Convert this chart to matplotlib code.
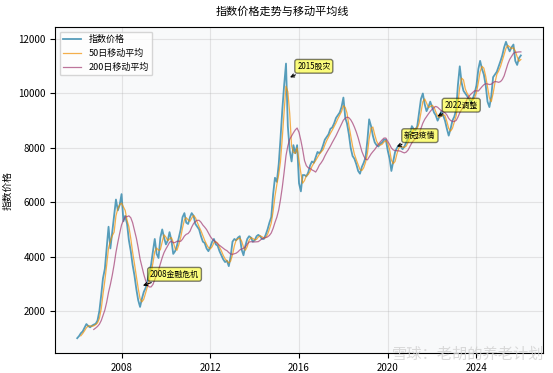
import matplotlib
matplotlib.use("Agg")
import matplotlib.pyplot as plt
import matplotlib.dates as mdates
import pandas as pd

plt.rcParams['font.family'] = ['Noto Sans CJK SC', 'DejaVu Sans']
plt.rcParams['axes.unicode_minus'] = False

# Prix mensuel de l'indice, de 2006-01 à 2026-01
dates = pd.date_range('2006-01-01', '2026-01-01', freq='MS')
prix = [
    1000, 1080, 1180, 1250, 1380, 1520, 1450, 1400, 1460, 1500, 1530, 1650,    # 2006
    2000, 2600, 3200, 3550, 4300, 5100, 4300, 4900, 5500, 6100, 5700, 5900,    # 2007
    6300, 5300, 5500, 5200, 4600, 4200, 3700, 3300, 2800, 2400, 2150, 2450,    # 2008
    2700, 2850, 3100, 3400, 3700, 4200, 4650, 4100, 3950, 4700, 5000, 4700,    # 2009
    4450, 4600, 4900, 4600, 4100, 4200, 4400, 4700, 5000, 5450, 5600, 5250,    # 2010
    5200, 5450, 5600, 5500, 5200, 5100, 5000, 4750, 4550, 4500, 4300, 4200,    # 2011
    4350, 4550, 4650, 4450, 4400, 4200, 4050, 3900, 3800, 3850, 3650, 4000,    # 2012
    4550, 4650, 4600, 4700, 4750, 4250, 4050, 4400, 4650, 4750, 4700, 4550,    # 2013
    4600, 4750, 4800, 4750, 4650, 4650, 4800, 5000, 5250, 5450, 6300, 6900,    # 2014
    6750, 7400, 8300, 9400, 10300, 11100, 8800, 7900, 7500, 8100, 7800, 8100,  # 2015
    6700, 6400, 7000, 7000, 6950, 7100, 7350, 7500, 7450, 7650, 7850, 7800,    # 2016
    7900, 8100, 8300, 8400, 8500, 8700, 8750, 8900, 9100, 9200, 9300, 9500,    # 2017
    9850, 9100, 8900, 8500, 8000, 7700, 7600, 7400, 7150, 7050, 7300, 7450,    # 2018
    7650, 8300, 9050, 8800, 8450, 8200, 8100, 8050, 8150, 8200, 8300, 8300,    # 2019
    7900, 7600, 7150, 7500, 7850, 8000, 8100, 8050, 7950, 8050, 8200, 8350,    # 2020
    8500, 8800, 8700, 8650, 8800, 9300, 9800, 10000, 9600, 9350, 9500, 9700,   # 2021
    9500, 9300, 9200, 9000, 9150, 9350, 9200, 9000, 8700, 8450, 8700, 9000,    # 2022
    9150, 9400, 10300, 11000, 10400, 10100, 10000, 9900, 9800, 9700, 9800, 10000,  # 2023
    10300, 10900, 11200, 10900, 10700, 10300, 9700, 9500, 9900, 10600, 10700, 10800,  # 2024
    11000, 11200, 11400, 11700, 11900, 11700, 11550, 11700, 11800, 11200, 11050, 11300,  # 2025
    11400,  # 2026
]

# Événements annotés
evenements = ['2008金融危机', '2015股灾', '新冠疫情', '2022调整']
dates_evt = pd.to_datetime(['2008-11-05', '2015-06-25', '2020-04-20', '2022-02-15'])
prix_evt = [2900, 10550, 8000, 9120]

serie = pd.Series(prix, index=dates)
# 50 jours de bourse ~ 3 mois, 200 jours ~ 10 mois
ma50 = serie.rolling(3).mean()
ma200 = serie.rolling(10).mean()

fig, ax = plt.subplots(figsize=(5.53, 3.73), dpi=100)
fig.subplots_adjust(left=0.0995, right=0.982, bottom=0.0536, top=0.9276)
ax.set_facecolor('#f8f9fa')

ax.plot(serie.index, serie.values, color='#2E86AB', lw=1.3, alpha=0.8, label='指数价格')
ax.plot(ma50.index, ma50.values, color='#F18F01', lw=0.9, alpha=0.7, label='50日移动平均')
ax.plot(ma200.index, ma200.values, color='#A23B72', lw=0.9, alpha=0.7, label='200日移动平均')

for label, d, p in zip(evenements, dates_evt, prix_evt):
    ax.annotate(label, xy=(d, p), xytext=(7, 7), textcoords='offset points',
                fontsize=5.7,
                bbox=dict(boxstyle='round,pad=0.3', fc='yellow', alpha=0.5),
                arrowprops=dict(arrowstyle='->', color='black', lw=0.8))

fig.suptitle('指数价格走势与移动平均线', fontsize=8, x=0.51, y=0.968, va='center')
ax.set_ylabel('指数价格', fontsize=7)
ax.xaxis.set_major_locator(mdates.YearLocator(4))
ax.xaxis.set_major_formatter(mdates.DateFormatter('%Y'))
ax.tick_params(labelsize=7)
ax.grid(True, alpha=0.3)
ax.legend(loc='upper left', fontsize=6.5)

# filigrane
fig.text(0.985, 0.05, '雪球：老胡的养老计划', ha='right', va='center',
         fontsize=11, color='#d0d0d0', alpha=0.8)

plt.savefig('out.png', dpi=100)
